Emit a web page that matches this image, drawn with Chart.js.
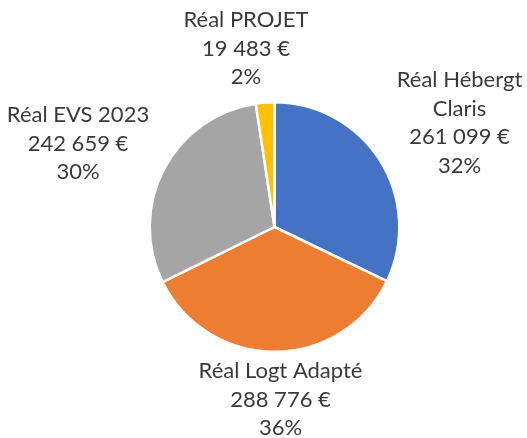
<!DOCTYPE html>
<html>
<head>
<meta charset="utf-8">
<script src="https://cdn.jsdelivr.net/npm/chart.js@4"></script>
<style>
  html, body { margin: 0; padding: 0; background: #fff; }
  #wrap { width: 527px; height: 438px; position: relative; }
</style>
</head>
<body>
<div id="wrap"><canvas id="pie"></canvas></div>
<script>
// données
const categories = [['Réal Hébergt', 'Claris'], ['Réal Logt Adapté'], ['Réal EVS 2023'], ['Réal PROJET']];
const values = [261099, 288776, 242659, 19483];
const colors = ['#4472C4', '#ED7D31', '#A5A5A5', '#FFC000'];

// position des étiquettes (centre x, 1re ligne) par rapport au centre du camembert
const labelOffsets = [[185, -140], [6, 151], [-196.5, -105], [-28.5, -200]];
const LINE_H = 28.7;
const FONT = '22px Lato';

const fmtEuro = v => String(v).replace(/\B(?=(\d{3})+(?!\d))/g, ' ') + ' €';

const labelsPlugin = {
    id: 'pieLabels',
    afterDatasetsDraw(chart) {
        const { ctx } = chart;
        const meta = chart.getDatasetMeta(0);
        const data = chart.data.datasets[0].data;
        const total = data.reduce((a, b) => a + b, 0);
        ctx.save();
        ctx.font = FONT;
        ctx.fillStyle = '#3a3a3a';
        ctx.textAlign = 'center';
        ctx.textBaseline = 'alphabetic';
        meta.data.forEach((arc, i) => {
            const lines = [...chart.data.labels[i], fmtEuro(data[i]), Math.round(data[i] / total * 100) + '%'];
            const x = arc.x + labelOffsets[i][0];
            const y = arc.y + labelOffsets[i][1];
            lines.forEach((t, k) => ctx.fillText(t, x, y + k * LINE_H));
        });
        ctx.restore();
    }
};

new Chart(document.getElementById('pie').getContext('2d'), {
    type: 'pie',
    data: {
        labels: categories,
        datasets: [{
            data: values,
            backgroundColor: colors,
            borderColor: '#ffffff',
            borderWidth: 2.5
        }]
    },
    options: {
        responsive: true,
        maintainAspectRatio: false,
        animation: false,
        layout: { padding: { top: 101, bottom: 85, left: 148, right: 126 } },
        plugins: {
            legend: { display: false },
            tooltip: { enabled: false }
        }
    },
    plugins: [labelsPlugin]
});
</script>
</body>
</html>
